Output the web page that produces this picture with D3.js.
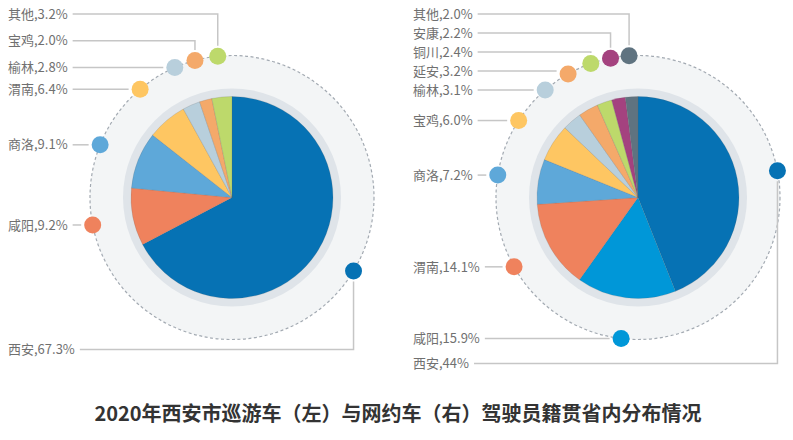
<!DOCTYPE html>
<html><head><meta charset="utf-8">
<script src="https://cdn.jsdelivr.net/npm/d3@7"></script>
<style>body{margin:0;background:#fff} svg{display:block}</style>
</head><body><svg id="c" width="793" height="440"></svg>
<script>
// ---- data ----
const leftCategories  = ["西安","咸阳","商洛","渭南","榆林","宝鸡","其他"];
const leftValues      = [67.3, 9.2, 9.1, 6.4, 2.8, 2.0, 3.2];
const rightCategories = ["西安","咸阳","渭南","商洛","宝鸡","榆林","延安","铜川","安康","其他"];
const rightValues     = [44, 15.9, 14.1, 7.2, 6.0, 3.1, 3.2, 2.4, 2.2, 2.0];
const titleText = "2020年西安市巡游车（左）与网约车（右）驾驶员籍贯省内分布情况";

// ---- styles ----
const leftColors  = ["#0672b4","#ef825d","#5ea8d9","#fec662","#b8cfdc","#f4a96a","#bdd96b"];
const rightColors = ["#0672b4","#0097d8","#ef825d","#5ea8d9","#fec662","#b8cfdc","#f4a96a","#bdd96b","#a4427f","#5f7380"];
const FONT = "'Noto Sans CJK SC','Noto Sans',sans-serif";

const svg = d3.select("#c");
const fmt = v => (Number.isInteger(v) && v >= 10) ? String(v) : d3.format(".1f")(v);

function drawChart(cx, cy, cats, vals, colors, labelX) {
  const R = 142, ringR = 109, pieR = 101, dotR = 8.5, yTop = 14, gap = 17;
  const g = svg.append("g");
  const c = g.append("g").attr("transform", `translate(${cx},${cy})`);
  c.append("circle").attr("r", R).attr("fill", "#f3f5f6");
  c.append("circle").attr("r", ringR).attr("fill", "#dfe4e9");
  const pie = d3.pie().sort(null).value(d => d.v);
  const data = cats.map((n, i) => ({n, v: vals[i], col: colors[i]}));
  const arcs = pie(data);
  const arc = d3.arc().innerRadius(0).outerRadius(pieR);
  c.selectAll("path.s").data(arcs).join("path")
    .attr("d", arc).attr("fill", d => d.data.col)
    .attr("stroke", "rgba(90,90,90,0.35)").attr("stroke-width", 0.5);
  c.append("circle").attr("r", R).attr("fill", "none")
    .attr("stroke", "#a3aab2").attr("stroke-width", 1.2).attr("stroke-dasharray", "3,2.5");

  const pts = arcs.map(a => {
    const m = (a.startAngle + a.endAngle) / 2;
    return {x: cx + R * Math.sin(m), y: cy - R * Math.cos(m), col: a.data.col, n: a.data.n, v: a.data.v};
  });
  // label layout: first item goes to the bottom; the others follow their dots,
  // crowded ones near the top are spread evenly up to the top margin
  const rest = pts.slice(1);
  let prev = Infinity, pushedFrom = rest.length;
  rest.forEach((p, i) => {
    if (p.y <= prev - gap) { p.ly = p.y; }
    else { p.ly = prev - gap; if (pushedFrom === rest.length) pushedFrom = i; }
    prev = p.ly;
  });
  if (pushedFrom < rest.length) {
    const anchor = rest[pushedFrom - 1];
    const steps = rest.length - pushedFrom;
    for (let k = pushedFrom; k < rest.length; k++) {
      const t = (k - (pushedFrom - 1)) / steps;
      rest[k].ly = anchor.ly + (yTop - anchor.ly) * t;
    }
  }
  const maxLy = d3.max(rest, p => p.ly);
  pts[0].ly = Math.max(cy + R + 10, maxLy + 25);

  const lineCol = "#c6c6c6";
  pts.forEach(p => {
    const t = g.append("text").attr("x", labelX).attr("y", p.ly).attr("dy", "0.36em")
      .attr("font-family", FONT).attr("font-size", 13).attr("fill", "#707070")
      .text(`${p.n},${fmt(p.v)}%`);
    const x0 = labelX + t.node().getComputedTextLength() + 5;
    let d;
    if (p.ly > p.y + dotR + 2) {
      d = `M${x0},${p.ly}H${p.x}V${p.y + dotR + 2}`;
    } else if (p.ly < p.y - dotR - 2) {
      d = `M${x0},${p.ly}H${p.x}V${p.y - dotR - 2}`;
    } else {
      d = `M${x0},${p.ly}H${p.x - dotR - 3}`;
    }
    g.insert("path", "text").attr("d", d).attr("fill", "none")
      .attr("stroke", lineCol).attr("stroke-width", 1.5);
  });
  g.selectAll("circle.dot").data(pts).join("circle").attr("class", "dot")
    .attr("cx", d => d.x).attr("cy", d => d.y).attr("r", dotR).attr("fill", d => d.col);
}

drawChart(232, 197.5, leftCategories, leftValues, leftColors, 8);
drawChart(638, 197.5, rightCategories, rightValues, rightColors, 413);

svg.append("text").attr("x", 398).attr("y", 414).attr("dy", "0.36em")
  .attr("text-anchor", "middle").attr("font-family", FONT).attr("font-weight", 700)
  .attr("font-size", 20).attr("fill", "#333").text(titleText);
</script></body></html>
